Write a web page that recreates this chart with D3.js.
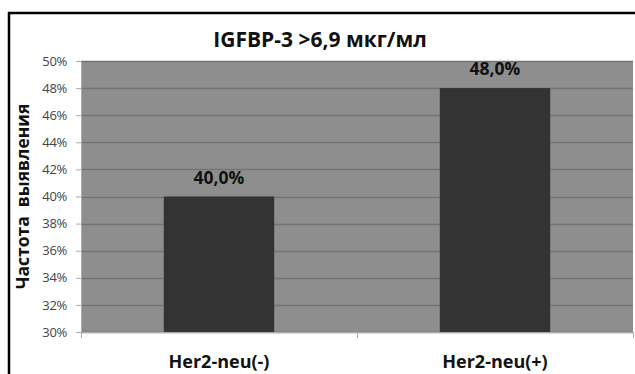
<!DOCTYPE html>
<html>
<head>
<meta charset="utf-8">
<script src="https://cdn.jsdelivr.net/npm/d3@7"></script>
<style>
  body { margin: 0; background: #fff; }
  svg { display: block; font-family: "Open Sans", sans-serif; }
</style>
</head>
<body>
<svg id="chart" width="635" height="374"></svg>
<script>
const categories = ["Her2-neu(-)", "Her2-neu(+)"];
const values = [40.0, 48.0];
const yTicks = [30, 32, 34, 36, 38, 40, 42, 44, 46, 48, 50];
const title = "IGFBP-3 >6,9 мкг/мл";
const yLabel = "Частота  выявления";

const svg = d3.select("#chart");
const plot = { left: 81, top: 61, right: 633, bottom: 332 };

// outer frame (only left and top edges are visible)
svg.append("path")
    .attr("d", "M9,374 L9,13 L635,13")
    .attr("fill", "none")
    .attr("stroke", "#000")
    .attr("stroke-width", 2.5);

const x = d3.scaleBand()
    .domain(categories)
    .range([plot.left, plot.right])
    .paddingInner(0.6)
    .paddingOuter(0.3);

const y = d3.scaleLinear()
    .domain([30, 50])
    .range([plot.bottom, plot.top]);

svg.append("rect")
    .attr("x", plot.left)
    .attr("y", plot.top)
    .attr("width", plot.right - plot.left)
    .attr("height", plot.bottom - plot.top)
    .attr("fill", "#8e8e8e");

// gridlines
svg.append("g")
    .selectAll("line")
    .data(yTicks)
    .enter()
    .append("line")
    .attr("x1", plot.left)
    .attr("x2", plot.right)
    .attr("y1", d => Math.round(y(d)) + 0.5)
    .attr("y2", d => Math.round(y(d)) + 0.5)
    .attr("stroke", "#747474")
    .attr("stroke-width", 1.5);

// bars
svg.append("g")
    .selectAll("rect")
    .data(values)
    .enter()
    .append("rect")
    .attr("x", (d, i) => x(categories[i]))
    .attr("y", d => y(d))
    .attr("width", x.bandwidth())
    .attr("height", d => y(30) - y(d))
    .attr("fill", "#333333");

// value labels
svg.append("g")
    .selectAll("text")
    .data(values)
    .enter()
    .append("text")
    .attr("x", (d, i) => x(categories[i]) + x.bandwidth() / 2)
    .attr("y", d => y(d) - 13)
    .attr("text-anchor", "middle")
    .attr("font-size", 17.5)
    .attr("font-weight", "bold")
    .attr("fill", "#111")
    .text(d => d.toFixed(1).replace(".", ",") + "%");

// y axis
const yAxis = svg.append("g")
    .attr("transform", `translate(${plot.left},0)`)
    .call(d3.axisLeft(y).tickValues(yTicks).tickSize(5).tickPadding(9).tickFormat(d => d + "%"));
yAxis.select(".domain").attr("stroke", "#aaa");
yAxis.selectAll(".tick line").attr("stroke", "#aaa");
yAxis.selectAll("text")
    .attr("font-size", 13)
    .attr("font-family", "Open Sans, sans-serif")
    .attr("letter-spacing", "-0.3px")
    .attr("fill", "#444");

// x axis
const xEdge = d3.scalePoint().domain([0, 1, 2]).range([plot.left, plot.right]);
svg.append("line")
    .attr("x1", plot.left).attr("x2", plot.right)
    .attr("y1", plot.bottom + 0.5).attr("y2", plot.bottom + 0.5)
    .attr("stroke", "#aaa");
svg.append("g")
    .selectAll("line")
    .data([0, 1, 2])
    .enter()
    .append("line")
    .attr("x1", d => Math.round(xEdge(d)) + 0.5)
    .attr("x2", d => Math.round(xEdge(d)) + 0.5)
    .attr("y1", plot.bottom)
    .attr("y2", plot.bottom + 6)
    .attr("stroke", "#aaa");

svg.append("g")
    .selectAll("text")
    .data(categories)
    .enter()
    .append("text")
    .attr("x", d => x(d) + x.bandwidth() / 2)
    .attr("y", 368)
    .attr("text-anchor", "middle")
    .attr("font-size", 18)
    .attr("font-weight", "bold")
    .attr("fill", "#111")
    .text(d => d);

// title
svg.append("text")
    .attr("x", 320)
    .attr("y", 47)
    .attr("text-anchor", "middle")
    .attr("font-size", 21)
    .attr("font-weight", "bold")
    .attr("fill", "#111")
    .text(title);

// y label
svg.append("text")
    .attr("transform", `translate(29,${(plot.top + plot.bottom) / 2}) rotate(-90)`)
    .attr("text-anchor", "middle")
    .attr("font-size", 17.5)
    .attr("font-weight", "bold")
    .attr("fill", "#111")
    .style("white-space", "pre")
    .text(yLabel);
</script>
</body>
</html>
